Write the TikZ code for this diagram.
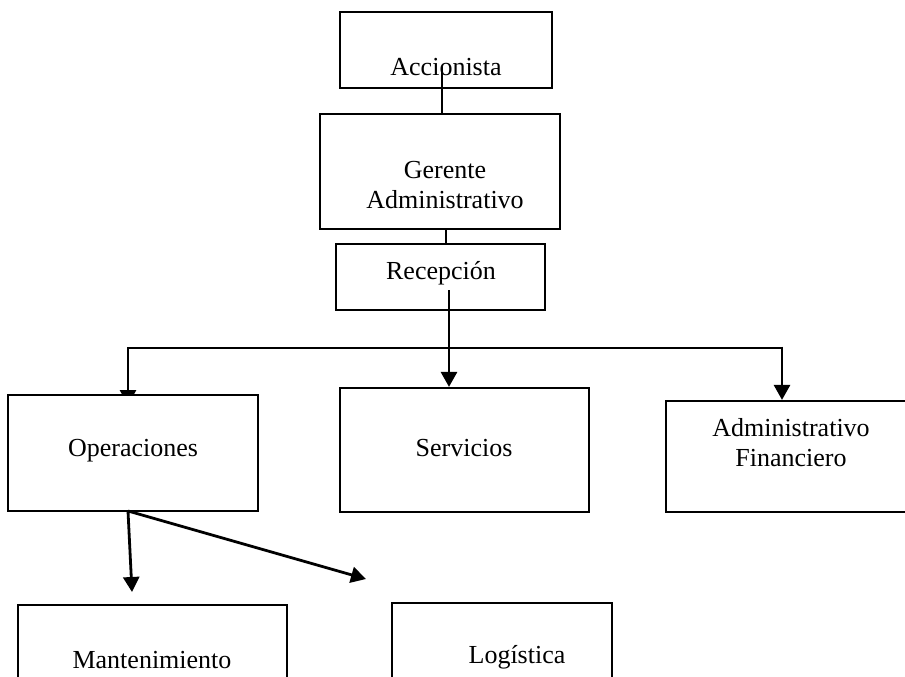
\documentclass[tikz,border=0pt]{standalone}
\usepackage{fontspec}
\setmainfont{Liberation Serif}
\usetikzlibrary{arrows.meta}

\begin{document}
\begin{tikzpicture}[x=1pt,y=-1pt,
  caja/.style={draw,line width=2.2pt,fill=white,inner sep=0pt},
  txt/.style={font=\fontsize{26}{30}\selectfont,inner sep=0pt,align=center},
  linea/.style={line width=2.8pt},
  flecha/.style={line width=2.8pt,-{Triangle[width=16pt,length=15pt]}},
]
\useasboundingbox (0,0) rectangle (905,677);
\clip (0,0) rectangle (905,677);
% puntos libres de los conectores
\coordinate (accIn) at (442,67);
\coordinate (recIn) at (449,290);
\coordinate (busL) at (128,348);
\coordinate (busR) at (782,348);
\coordinate (opeTop) at (128,405);
\coordinate (opeOut) at (128,511);
\coordinate (manTip) at (132,592);
\coordinate (logTip) at (366,579);
% la flecha a Operaciones queda tapada por la caja
\draw[flecha] (busR) -- (busL) -- (opeTop);
% cajas
\node[caja,minimum width=212pt,minimum height=76pt] (acc) at (446,50) {};
\node[caja,minimum width=240pt,minimum height=115pt] (ger) at (440,171.5) {};
\node[caja,minimum width=209pt,minimum height=66pt] (rec) at (440.5,277) {};
\node[caja,minimum width=250pt,minimum height=116pt] (ope) at (133,453) {};
\node[caja,minimum width=249pt,minimum height=124pt] (ser) at (464.5,450) {};
\node[caja,minimum width=250pt,minimum height=111pt] (adm) at (791,456.5) {};
\node[caja,minimum width=269pt,minimum height=120pt] (man) at (152.5,665) {};
\node[caja,minimum width=220pt,minimum height=124pt] (log) at (502,665) {};
% textos
\node[txt,anchor=base] (accT) at (446,75) {Accionista};
\node[txt] (gerT) at (445,185) {Gerente\\Administrativo};
\node[txt,anchor=base] (recT) at (441,279) {Recepción};
\node[txt,anchor=base] (opeT) at (133,456) {Operaciones};
\node[txt,anchor=base] (serT) at (464,456) {Servicios};
\node[txt] (admT) at (791,443) {Administrativo\\Financiero};
\node[txt,anchor=base] (manT) at (152,668) {Mantenimiento};
\node[txt,anchor=base] (logT) at (517,663) {Logística};
% conectores
\draw[linea] (accIn) -- (accIn |- ger.north);
\draw[linea] ([xshift=6pt]ger.south) -- ([xshift=6pt]ger.south |- rec.north);
\draw[flecha] (recIn) -- (recIn |- ser.north);
\draw[flecha] ([yshift=1.4pt]busR) -- (busR |- adm.north);
\draw[flecha] (opeOut) -- (manTip);
\draw[flecha] (opeOut) -- (logTip);
\end{tikzpicture}
\end{document}
